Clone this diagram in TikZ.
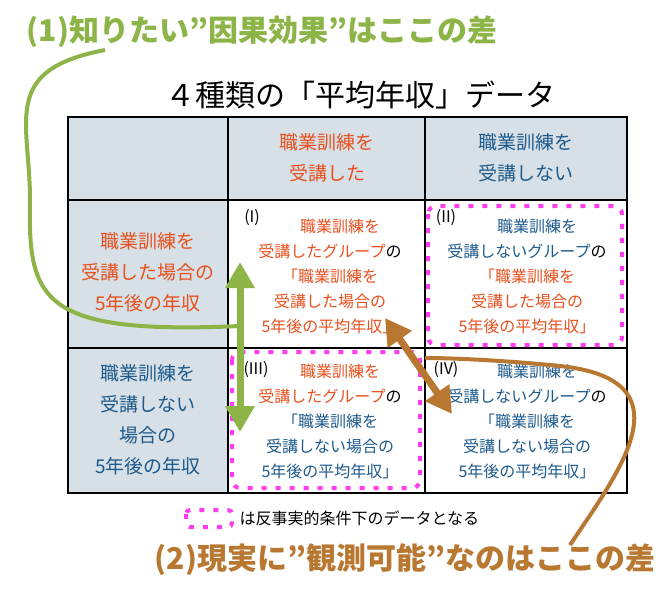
\documentclass[tikz,border=0pt]{standalone}
\usepackage{fontspec}
\setmainfont{Noto Sans CJK JP}
\usetikzlibrary{arrows.meta,positioning}
\definecolor{tred}{RGB}{232,80,30}
\definecolor{tblue}{RGB}{30,90,140}
\definecolor{hdr}{RGB}{214,224,230}
\definecolor{grn}{RGB}{140,180,70}
\definecolor{brn}{RGB}{185,120,50}
\definecolor{mag}{RGB}{255,60,240}
\tikzset{cell/.style={align=center,font=\fontsize{16}{25}\selectfont},
  hcell/.style={align=center,font=\fontsize{19}{31}\selectfont},
  num/.style={font=\fontsize{16}{18}\selectfont},
  cf/.style={mag,line width=4pt,dash pattern=on 5pt off 9pt,rounded corners=8pt},
  bigarrow/.style={line width=7pt,{Triangle[length=26pt,width=28pt]}-{Triangle[length=26pt,width=28pt]}}}
\begin{document}
\begin{tikzpicture}[x=1pt,y=-1pt]
\useasboundingbox (0,0) rectangle (671,608);

% Table
\fill[hdr] (68,117) rectangle (627,200);
\fill[hdr] (68,200) rectangle (228,493);
\draw[line width=1.4pt] (68,117) rectangle (627,493);
\foreach \x in {228,425} \draw[line width=1.4pt] (\x,117) -- (\x,493);
\foreach \y in {200,348} \draw[line width=1.4pt] (68,\y) -- (627,\y);

% Counterfactual boxes
\draw[cf] (428,206) rectangle (622,345);
\draw[cf] (232,352) rectangle (420,488);

% Title and labels
\node[font=\fontsize{30}{32}\selectfont] (title) at (360,95) {４種類の「平均年収」データ};
\node[font=\bfseries\fontsize{30}{32}\selectfont,text=grn] (q1) at (262,32) {(1)知りたい"因果効果"はここの差};
\node[font=\bfseries\fontsize{30}{32}\selectfont,text=brn] (q2) at (405,560) {(2)現実に"観測可能"なのはここの差};

% Headers
\node[hcell,text=tred] (h1) at (327,158) {職業訓練を\\受講した};
\node[hcell,text=tblue] (h2) at (526,158) {職業訓練を\\受講しない};
\node[hcell,text=tred] (r1) at (148,272) {職業訓練を\\受講した場合の\\5年後の年収};
\node[hcell,text=tblue] (r2) at (148,420) {職業訓練を\\受講しない\\場合の\\5年後の年収};

% Cells
\node[num] (n1) at (252,218) {(I)};
\node[num] (n2) at (446,218) {(II)};
\node[num] (n3) at (256,370) {(III)};
\node[num] (n4) at (446,370) {(IV)};
\node[cell,text=tred] (c1) at (330,276) {\hspace*{20pt}職業訓練を\\受講したグループ\textcolor{black}{の}\\「職業訓練を\\受講した場合の\\5年後の平均年収」};
\node[cell,text=tblue] (c2) at (527,276) {\hspace*{20pt}職業訓練を\\受講しないグループ\textcolor{black}{の}\\\textcolor{tred}{「職業訓練を}\\\textcolor{tred}{受講した場合の}\\\textcolor{tred}{5年後の平均年収」}};
\node[cell,text=tred] (c3) at (330,421) {\hspace*{20pt}職業訓練を\\受講したグループ\textcolor{black}{の}\\\textcolor{tblue}{「職業訓練を}\\\textcolor{tblue}{受講しない場合の}\\\textcolor{tblue}{5年後の平均年収」}};
\node[cell,text=tblue] (c4) at (527,421) {\hspace*{20pt}職業訓練を\\受講しないグループ\textcolor{black}{の}\\「職業訓練を\\受講しない場合の\\5年後の平均年収」};

% Legend
\coordinate (lg1) at (186,510);
\coordinate (lg2) at (232,527);
\draw[cf,rounded corners=4pt] (lg1) rectangle (lg2);
\node[font=\fontsize{16}{18}\selectfont,anchor=west] (lgtxt) at (236,518) {は反事実的条件下のデータとなる};

% Arrows
\coordinate (ga) at (240,262);
\coordinate (gb) at (240,432);
\coordinate (ba) at (385,318);
\coordinate (bb) at (452,414);
\draw[bigarrow,grn] (ga) -- (gb);
\draw[bigarrow,brn] (ba) -- (bb);

% Curves
\draw[grn,line width=4pt] (105,50) .. controls (0,70) and (30,120) .. (30,200)
  .. controls (28,300) and (40,335) .. (240,326);
\draw[brn,line width=4pt] (570,545) .. controls (620,470) and (690,380) .. (560,366)
  .. controls (500,360) and (450,358) .. (425,358);
\end{tikzpicture}
\end{document}
